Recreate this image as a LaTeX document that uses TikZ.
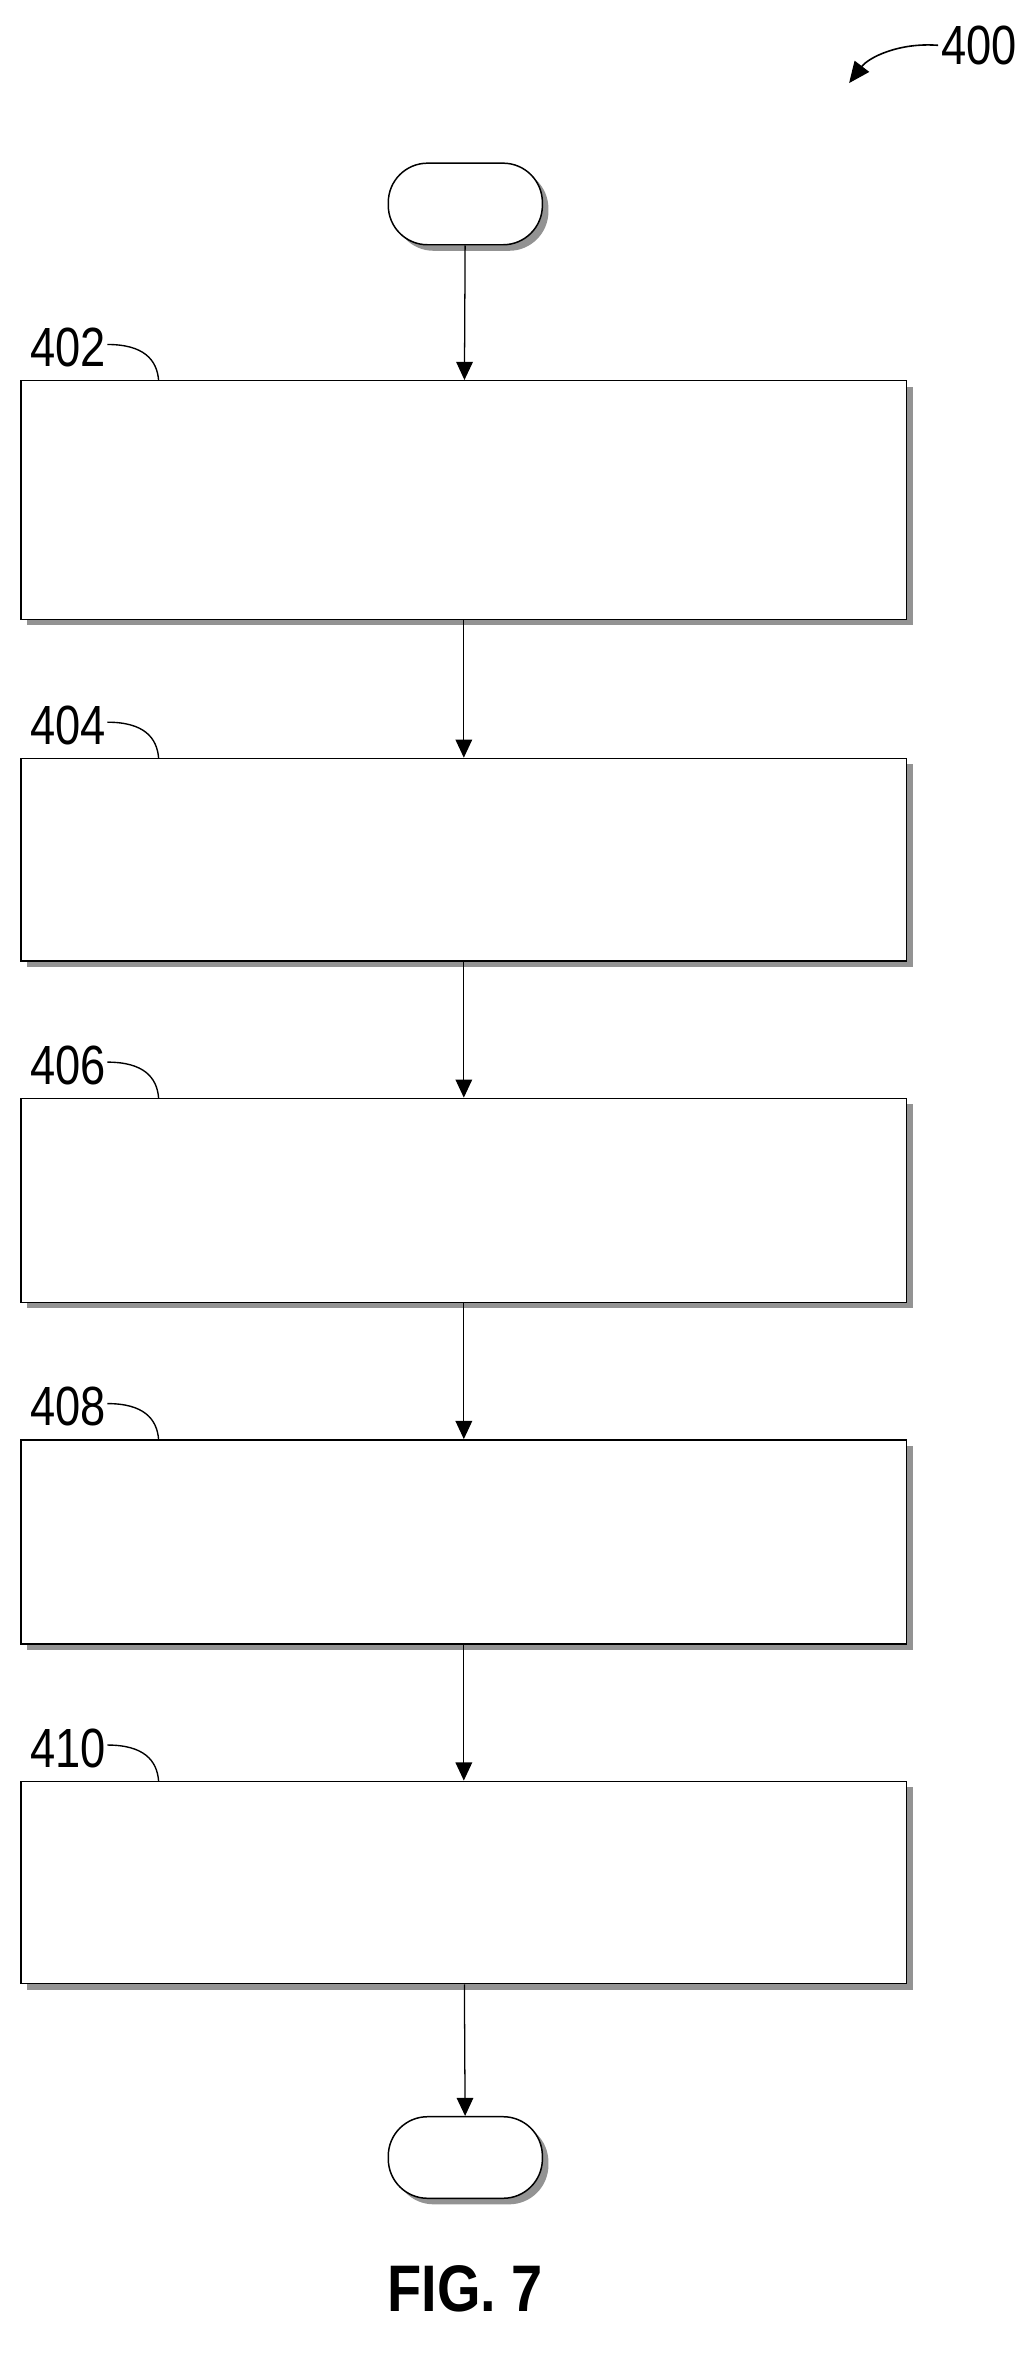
\documentclass[tikz,border=0pt]{standalone}
\usepackage{fontspec}
\setmainfont{Liberation Sans}
\usetikzlibrary{shadows,arrows.meta}
\tikzset{
  stepbox/.style={draw,line width=1.4pt,fill=white,drop shadow={shadow xshift=0.2cm,shadow yshift=-0.2cm,fill=gray!85,opacity=1}},
  flow/.style={-{Triangle[length=0.6cm,width=0.55cm]},line width=1.2pt},
  refnum/.style={font=\fontsize{52}{56}\selectfont,xscale=0.82},
}
\begin{document}
\begin{tikzpicture}[x=0.05cm,y=-0.05cm]
  \useasboundingbox (0,0) rectangle (680,1568);
  % terminals
  \node[stepbox,rounded corners=1.3cm,minimum width=5.1cm,minimum height=2.7cm] (start) at (308,135) {};
  \node[stepbox,rounded corners=1.3cm,minimum width=5.1cm,minimum height=2.7cm] (stop) at (308,1428) {};
  % steps
  \node[stepbox,minimum width=29.3cm,minimum height=7.9cm] (s402) at (307,331) {};
  \node[stepbox,minimum width=29.3cm,minimum height=6.7cm] (s404) at (307,569) {};
  \node[stepbox,minimum width=29.3cm,minimum height=6.75cm] (s406) at (307,794.5) {};
  \node[stepbox,minimum width=29.3cm,minimum height=6.75cm] (s408) at (307,1020.5) {};
  \node[stepbox,minimum width=29.3cm,minimum height=6.7cm] (s410) at (307,1246) {};
  \draw[flow] (start) -- (s402);
  \draw[flow] (s402) -- (s404);
  \draw[flow] (s404) -- (s406);
  \draw[flow] (s406) -- (s408);
  \draw[flow] (s408) -- (s410);
  \draw[flow] (s410) -- (stop);
  % reference numerals
  \foreach \n/\y in {402/252,404/502,406/727,408/953,410/1179}{
    \node[refnum] (l\n) at (45,\y-22) {\n};
    \draw[line width=1.3pt] (l\n.east) ++(-1,-2) .. controls (95,\y-24) and (104,\y-14) .. (105,\y);
  }
  \node[refnum] (fig) at (648,30) {400};
  \coordinate (figtip) at (562,55);
  \draw[line width=1.5pt,-{Triangle[length=0.7cm,width=0.6cm]}] (fig.west) .. controls (595,28) and (575,38) .. (figtip);
  \node[font=\bfseries\fontsize{62}{66}\selectfont,xscale=0.85] (cap) at (308,1515) {FIG. 7};
\end{tikzpicture}
\end{document}
